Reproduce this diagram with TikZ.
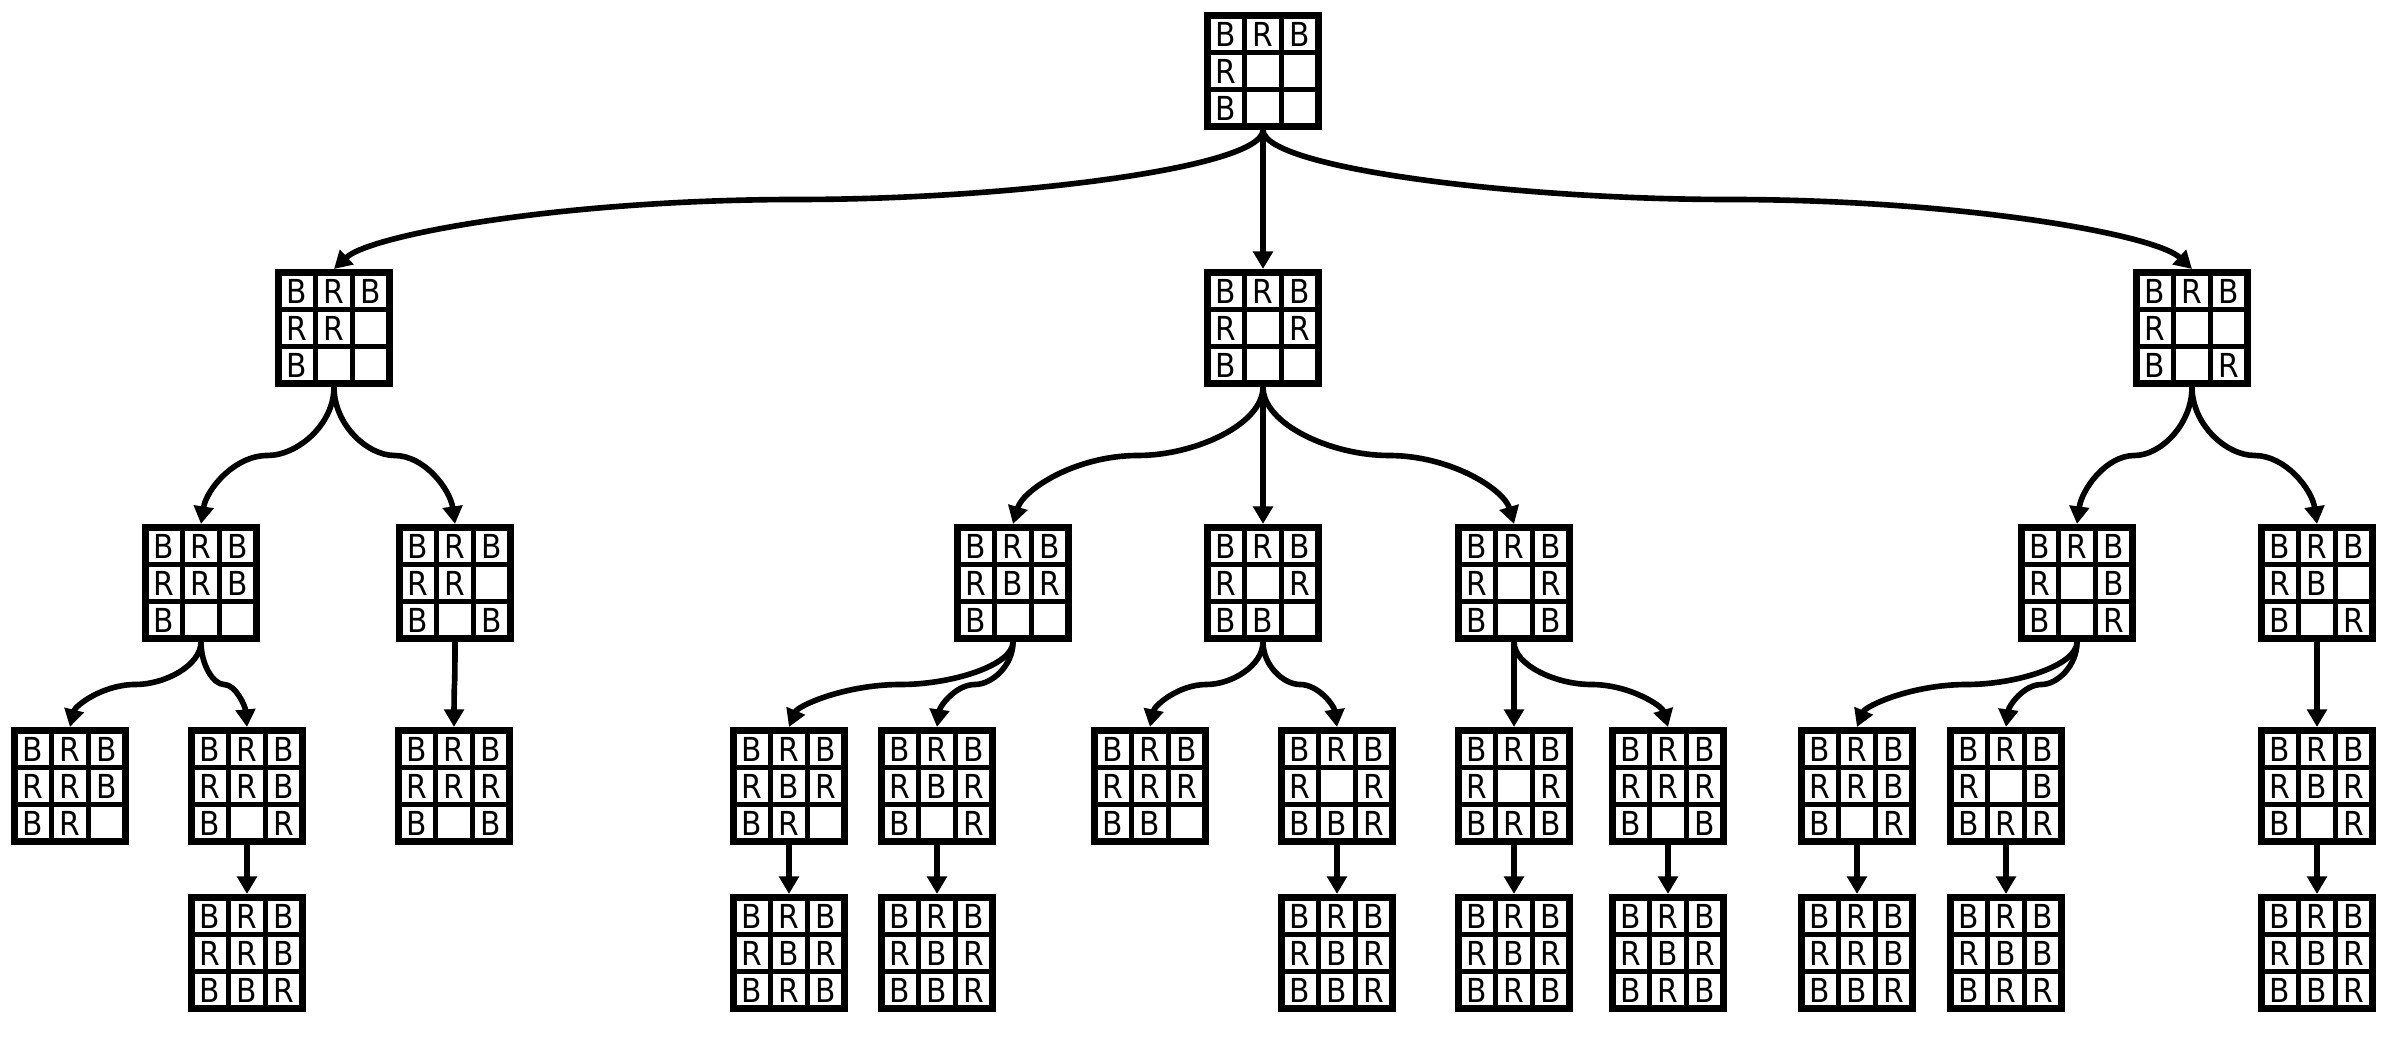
\documentclass[tikz,border=0pt]{standalone}
\usepackage{fontspec}
\setmainfont[FakeStretch=0.9]{DejaVu Sans}
\usetikzlibrary{arrows.meta,calc}
\tikzset{
  board/.style={draw=black,line width=2pt,minimum size=1.11cm,inner sep=0pt},
  gridline/.style={line width=1.5pt},
  cell/.style={inner sep=0pt,font=\fontsize{9.4}{11}\selectfont},
  move/.style={-{Triangle[length=5pt,width=5.5pt]},line width=1.6pt,
    to path={let \p1=(\tikztostart), \p2=(\tikztotarget), \p3=($(\p1)!0.5!(\p2)$),
      \n1={0.08*(\x3-\x2)} in
      .. controls ($(\p1)!0.55!(\x1,\y3)$) and ($(\p3)!0.45!(\x1,\y3)$) .. (\p3)
      .. controls ($(\p3)!0.5!(\x2,\y3)$) and ({\x2+\n1},{0.5*(\y2+\y3)}) .. (\p2) \tikztonodes}},
}
% board: name, centre, nine cells row by row (x = empty)
\newcommand{\board}[3]{%
  \node[board] (#1) at (#2) {};
  \begin{scope}[shift={(#1.center)}]
    \draw[gridline] (-0.185,-0.555) -- (-0.185,0.555) (0.185,-0.555) -- (0.185,0.555)
      (-0.555,-0.185) -- (0.555,-0.185) (-0.555,0.185) -- (0.555,0.185);
    \foreach \piece [count=\i from 0] in {#3} {
      \pgfmathtruncatemacro\col{mod(\i,3)}
      \pgfmathtruncatemacro\row{div(\i,3)}
      \if\piece x\else\node[cell] (#1-\i) at ({(\col-1)*0.37},{(1-\row)*0.37}) {\piece};\fi
    }
  \end{scope}}

\begin{document}
\begin{tikzpicture}
\useasboundingbox (0,0) rectangle (23.88,10.37);
% start position
\board{root}{12.63,9.66}{B,R,B,R,x,x,B,x,x}
% first move
\board{a}{3.34,7.09}{B,R,B,R,R,x,B,x,x}
\board{b}{12.63,7.09}{B,R,B,R,x,R,B,x,x}
\board{c}{21.92,7.09}{B,R,B,R,x,x,B,x,R}
% second move
\board{aa}{2.01,4.54}{B,R,B,R,R,B,B,x,x}
\board{ab}{4.55,4.54}{B,R,B,R,R,x,B,x,B}
\board{ba}{10.13,4.54}{B,R,B,R,B,R,B,x,x}
\board{bb}{12.63,4.54}{B,R,B,R,x,R,B,B,x}
\board{bc}{15.14,4.54}{B,R,B,R,x,R,B,x,B}
\board{ca}{20.77,4.54}{B,R,B,R,x,B,B,x,R}
\board{cb}{23.17,4.54}{B,R,B,R,B,x,B,x,R}
% third move
\board{aaa}{0.70,2.51}{B,R,B,R,R,B,B,R,x}
\board{aab}{2.47,2.51}{B,R,B,R,R,B,B,x,R}
\board{aba}{4.54,2.51}{B,R,B,R,R,R,B,x,B}
\board{baa}{7.89,2.51}{B,R,B,R,B,R,B,R,x}
\board{bab}{9.37,2.51}{B,R,B,R,B,R,B,x,R}
\board{bba}{11.50,2.51}{B,R,B,R,R,R,B,B,x}
\board{bbb}{13.37,2.51}{B,R,B,R,x,R,B,B,R}
\board{bca}{15.14,2.51}{B,R,B,R,x,R,B,R,B}
\board{bcb}{16.68,2.51}{B,R,B,R,R,R,B,x,B}
\board{caa}{18.57,2.51}{B,R,B,R,R,B,B,x,R}
\board{cab}{20.06,2.51}{B,R,B,R,x,B,B,R,R}
\board{cba}{23.17,2.51}{B,R,B,R,B,R,B,x,R}
% fourth move
\board{aaba}{2.47,0.84}{B,R,B,R,R,B,B,B,R}
\board{baaa}{7.89,0.84}{B,R,B,R,B,R,B,R,B}
\board{baba}{9.37,0.84}{B,R,B,R,B,R,B,B,R}
\board{bbba}{13.37,0.84}{B,R,B,R,B,R,B,B,R}
\board{bcaa}{15.14,0.84}{B,R,B,R,B,R,B,R,B}
\board{bcba}{16.68,0.84}{B,R,B,R,B,R,B,R,B}
\board{caaa}{18.57,0.84}{B,R,B,R,R,B,B,B,R}
\board{caba}{20.06,0.84}{B,R,B,R,B,B,B,R,R}
\board{cbaa}{23.17,0.84}{B,R,B,R,B,R,B,B,R}
% moves
\foreach \src/\dst in {root/a,root/b,root/c,a/aa,a/ab,b/ba,b/bb,b/bc,c/ca,c/cb,
    aa/aaa,aa/aab,ab/aba,ba/baa,ba/bab,bb/bba,bb/bbb,bc/bca,bc/bcb,ca/caa,ca/cab,cb/cba,
    aab/aaba,baa/baaa,bab/baba,bbb/bbba,bca/bcaa,bcb/bcba,caa/caaa,cab/caba,cba/cbaa}
  \draw[move] (\src.south) to (\dst.north);
\end{tikzpicture}
\end{document}
